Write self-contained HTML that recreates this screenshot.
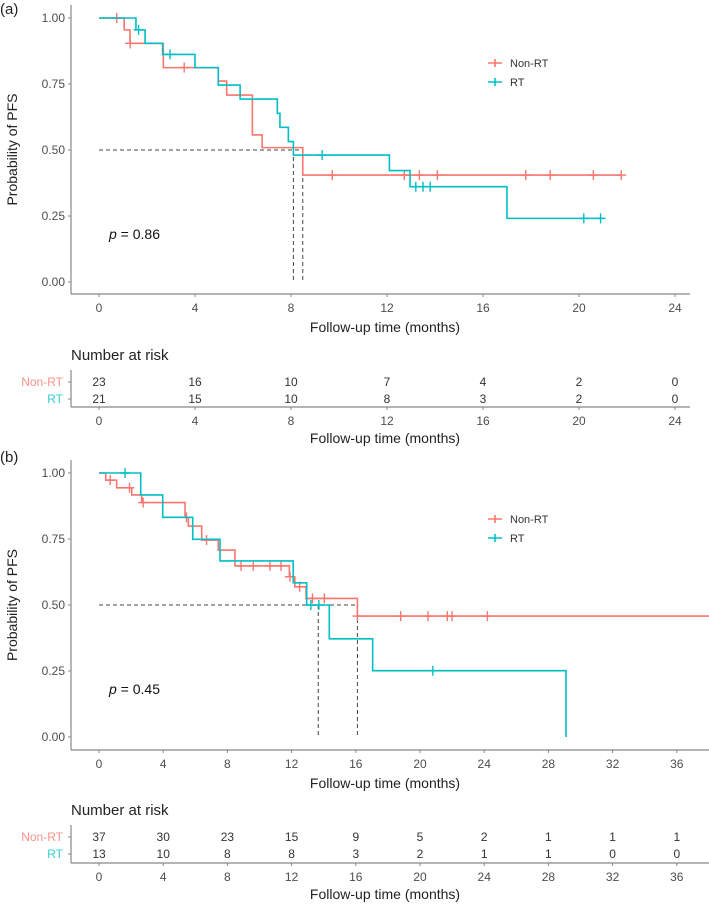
<!DOCTYPE html>
<html><head><meta charset="utf-8"><style>
html,body{margin:0;padding:0;background:#fff;}
svg{display:block;font-family:"Liberation Sans",Arial,sans-serif;}
</style></head><body>
<svg id="chart" width="709" height="905" viewBox="0 0 709 905" xmlns="http://www.w3.org/2000/svg"></svg>
<script>
// ---- Panel A data ----
const aRedT = [0, 1.05, 1.29, 2.68, 4.97, 5.32, 6.39, 6.8, 8.49];
const aRedS = [1.0, 0.955, 0.904, 0.812, 0.761, 0.708, 0.557, 0.509, 0.405];
const aRedEnd = 21.76;
const aRedCensT = [0.74, 1.3, 3.55, 9.72, 12.72, 13.35, 14.1, 17.78, 18.8, 20.6, 21.76];
const aTealT = [0, 1.54, 1.92, 2.65, 4.0, 4.97, 5.88, 7.43, 7.54, 7.89, 8.1, 12.1, 12.96, 17.0];
const aTealS = [1.0, 0.955, 0.904, 0.862, 0.812, 0.746, 0.693, 0.639, 0.586, 0.532, 0.481, 0.422, 0.361, 0.241];
const aTealEnd = 20.9;
const aTealCensT = [1.65, 2.96, 9.3, 13.2, 13.5, 13.8, 20.2, 20.9];
const aMedians = [8.1, 8.49];
const aTicks = [0, 4, 8, 12, 16, 20, 24];
const aRiskRed = [23, 16, 10, 7, 4, 2, 0];
const aRiskTeal = [21, 15, 10, 8, 3, 2, 0];
// ---- Panel B data ----
const bRedT = [0, 0.42, 1.1, 2.04, 2.66, 5.36, 5.57, 6.4, 7.43, 8.47, 11.86, 12.2, 12.9, 16.1];
const bRedS = [1.0, 0.973, 0.944, 0.917, 0.888, 0.832, 0.799, 0.746, 0.708, 0.648, 0.607, 0.569, 0.525, 0.458];
const bRedEnd = 38.5;
const bRedCensT = [0.7, 1.9, 2.75, 5.45, 6.7, 8.85, 9.61, 10.65, 11.34, 11.9, 12.5, 13.3, 14.04, 16.1, 18.8, 20.5, 21.7, 22.0, 24.2];
const bTealT = [0, 2.6, 3.97, 5.84, 7.54, 12.1, 12.94, 14.35, 17.05, 29.1];
const bTealS = [1.0, 0.917, 0.832, 0.749, 0.667, 0.584, 0.5, 0.372, 0.251, 0.0];
const bTealEnd = 29.1;
const bTealCensT = [1.62, 13.2, 13.7, 20.8];
const bMedians = [13.66, 16.1];
const bTicks = [0, 4, 8, 12, 16, 20, 24, 28, 32, 36];
const bRiskRed = [37, 30, 23, 15, 9, 5, 2, 1, 1, 1];
const bRiskTeal = [13, 10, 8, 8, 3, 2, 1, 1, 0, 0];
const yTicks = [0, 0.25, 0.5, 0.75, 1.0];

const RED = '#F8766D', TEAL = '#00BFC4', NS = 'http://www.w3.org/2000/svg';
const svg = document.getElementById('chart');
function mk(tag, attrs, parent, text) {
  const e = document.createElementNS(NS, tag);
  for (const k in attrs) e.setAttribute(k, attrs[k]);
  if (text !== undefined) e.textContent = text;
  (parent || svg).appendChild(e);
  return e;
}
function stepPath(T, S, end, xf, yf) {
  let d = 'M' + xf(T[0]) + ' ' + yf(S[0]);
  for (let i = 1; i < T.length; i++) {
    d += ' H' + xf(T[i]) + ' V' + yf(S[i]);
  }
  d += ' H' + xf(end);
  return d;
}
function survAt(T, S, t) { let s = S[0]; for (let i = 0; i < T.length; i++) if (T[i] <= t) s = S[i]; return s; }

function panel(o) {
  const xf = m => o.x0 + m * o.pxm;
  const yf = p => o.yBottom - p * o.pyu;
  const g = mk('g', {});
  
  
  const lab = mk('text', {x: 0, y: o.labelY, 'font-size': 15, fill: '#222'}, g, o.label);
  
  
  const ya = mk('line', {x1: 71, y1: o.yTop, x2: 71, y2: o.axisY, stroke: '#888', 'stroke-width': 1.2}, g);
  
  
  const xa = mk('line', {x1: 71, y1: o.axisY, x2: o.xEnd, y2: o.axisY, stroke: '#888', 'stroke-width': 1.2}, g);
  
  
  yTicks.forEach(v => {
    mk('line', {x1: 68, x2: 71, y1: yf(v), y2: yf(v), stroke: '#888'}, g);
    const t = mk('text', {x: 65, y: yf(v) + 4, 'font-size': 12, 'text-anchor': 'end', fill: '#4d4d4d'}, g, v.toFixed(2));
    
    
  });
  o.ticks.forEach(v => {
    mk('line', {x1: xf(v), x2: xf(v), y1: o.axisY, y2: o.axisY + 3, stroke: '#888'}, g);
    const t = mk('text', {x: xf(v), y: o.axisY + 18, 'font-size': 12, 'text-anchor': 'middle', fill: '#4d4d4d'}, g, v);
    
    
  });
  const yt = mk('text', {x: 0, y: 0, 'font-size': 14, 'text-anchor': 'middle', fill: '#222', transform: 'translate(17,' + ((o.yTop + o.axisY) / 2) + ') rotate(-90)'}, g, 'Probability of PFS');
  
  
  const xt = mk('text', {x: 385, y: o.axisY + 38, 'font-size': 14, 'text-anchor': 'middle', fill: '#222'}, g, 'Follow-up time (months)');
  
  
  const mx = Math.max.apply(null, o.medians);
  const mh = mk('line', {x1: xf(0), x2: xf(mx), y1: yf(0.5), y2: yf(0.5), stroke: '#444', 'stroke-dasharray': '4,3', 'stroke-width': 1}, g);
  
  
  o.medians.forEach(m => {
    const mv = mk('line', {x1: xf(m), x2: xf(m), y1: yf(0.5), y2: yf(0), stroke: '#444', 'stroke-dasharray': '4,3', 'stroke-width': 1}, g);
    
    
  });
  [[o.redT, o.redS, o.redEnd, o.redC, RED, 'non-rt'], [o.tealT, o.tealS, o.tealEnd, o.tealC, TEAL, 'rt']].forEach(s => {
    const p = mk('path', {d: stepPath(s[0], s[1], s[2], xf, yf), fill: 'none', stroke: s[4], 'stroke-width': 1.6}, g);
    
    
    s[3].forEach(c => {
      const y = yf(survAt(s[0], s[1], c)), x = xf(c);
      const cm = mk('path', {d: 'M' + (x - 5) + ' ' + y + ' H' + (x + 5) + ' M' + x + ' ' + (y - 5) + ' V' + (y + 5), stroke: s[4], 'stroke-width': 1.4}, g);
      
      
    });
  });
  [['Non-RT', RED, 0], ['RT', TEAL, 19]].forEach(l => {
    const lg = mk('g', {}, g);
    
    
    const ly = o.legY + l[2];
    mk('path', {d: 'M488 ' + ly + ' H502 M495 ' + (ly - 4) + ' V' + (ly + 4), stroke: l[1], 'stroke-width': 1.6}, lg);
    mk('text', {x: 510, y: ly + 4, 'font-size': 11, fill: '#333'}, lg, l[0]);
  });
  const pv = mk('text', {x: 109, y: o.pY, 'font-size': 14, fill: '#111'}, g);
  
  
  mk('tspan', {'font-style': 'italic'}, pv, 'p');
  mk('tspan', {}, pv, ' = ' + o.p);
  const rt = mk('text', {x: 71, y: o.riskTitleY, 'font-size': 15, fill: '#222'}, g, 'Number at risk');
  
  
  mk('line', {x1: 71, x2: 71, y1: o.riskRow1 - 12, y2: o.riskAxis, stroke: '#888', 'stroke-width': 1.2}, g);
  mk('line', {x1: 71, x2: o.xEnd, y1: o.riskAxis, y2: o.riskAxis, stroke: '#888', 'stroke-width': 1.2}, g);
  [['Non-RT', RED, o.riskRow1, o.riskRed], ['RT', TEAL, o.riskRow2, o.riskTeal]].forEach(r => {
    const rl = mk('text', {x: 63, y: r[2] + 4, 'font-size': 12, 'text-anchor': 'end', fill: r[1], opacity: 0.8}, g, r[0]);
    
    
    mk('line', {x1: 68, x2: 71, y1: r[2], y2: r[2], stroke: '#888'}, g);
    r[3].forEach((n, i) => {
      const t = mk('text', {x: xf(o.ticks[i]), y: r[2] + 4, 'font-size': 12, 'text-anchor': 'middle', fill: '#333'}, g, n);
      
      
    });
  });
  o.ticks.forEach(v => {
    mk('line', {x1: xf(v), x2: xf(v), y1: o.riskAxis, y2: o.riskAxis + 3, stroke: '#888'}, g);
    mk('text', {x: xf(v), y: o.riskAxis + 18, 'font-size': 12, 'text-anchor': 'middle', fill: '#4d4d4d'}, g, v);
  });
  const rx = mk('text', {x: 385, y: o.riskAxis + 36, 'font-size': 14, 'text-anchor': 'middle', fill: '#222'}, g, 'Follow-up time (months)');
  
  
}

panel({name: 'panel-a', label: '(a)', labelY: 14, x0: 99, pxm: 24, yBottom: 282, pyu: 264, yTop: 5, axisY: 294, xEnd: 690,
  ticks: aTicks, medians: aMedians, redT: aRedT, redS: aRedS, redEnd: aRedEnd, redC: aRedCensT,
  tealT: aTealT, tealS: aTealS, tealEnd: aTealEnd, tealC: aTealCensT, legY: 63, pY: 239, p: '0.86',
  riskTitleY: 360, riskRow1: 382, riskRow2: 399, riskAxis: 407, riskRed: aRiskRed, riskTeal: aRiskTeal});
panel({name: 'panel-b', label: '(b)', labelY: 462, x0: 99, pxm: 16.05, yBottom: 737, pyu: 264, yTop: 460, axisY: 750, xEnd: 709,
  ticks: bTicks, medians: bMedians, redT: bRedT, redS: bRedS, redEnd: bRedEnd, redC: bRedCensT,
  tealT: bTealT, tealS: bTealS, tealEnd: bTealEnd, tealC: bTealCensT, legY: 519, pY: 694, p: '0.45',
  riskTitleY: 815, riskRow1: 837, riskRow2: 854, riskAxis: 863, riskRed: bRiskRed, riskTeal: bRiskTeal});
</script>
</body></html>
